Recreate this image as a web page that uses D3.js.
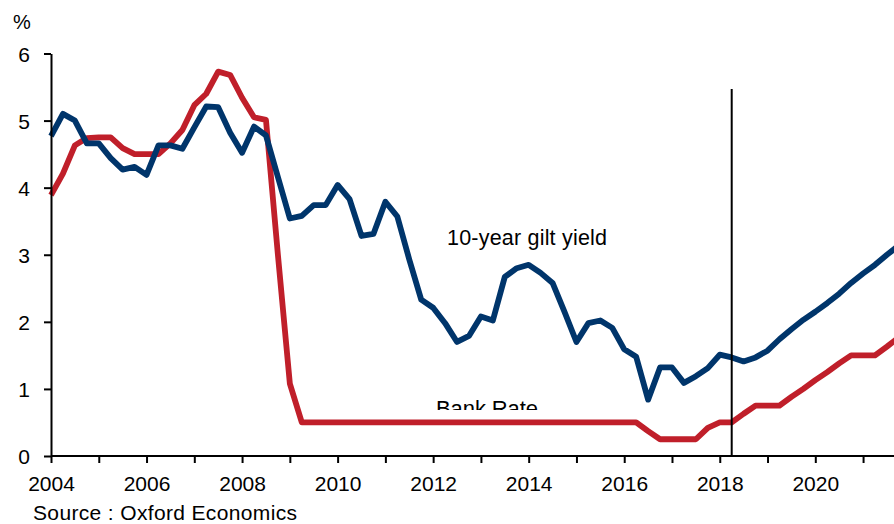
<!DOCTYPE html>
<html>
<head>
<meta charset="utf-8">
<script src="https://cdn.jsdelivr.net/npm/d3@7"></script>
<style>
  html, body { margin: 0; padding: 0; background: #ffffff; }
  svg { display: block; }
  text { font-family: "Liberation Sans", Arial, Helvetica, sans-serif; fill: #000; }
</style>
</head>
<body>
<svg id="chart" width="894" height="524"></svg>
<script>
// ---------------- data ----------------
const startYear = 2004;           // first quarter = 2004 Q1
const giltYield = [
  4.77, 5.10, 5.00, 4.66, 4.66, 4.44, 4.27, 4.31,
  4.19, 4.63, 4.63, 4.58, 4.90, 5.21, 5.20, 4.82,
  4.52, 4.91, 4.78, 4.16, 3.54, 3.58, 3.74, 3.74,
  4.04, 3.83, 3.28, 3.31, 3.79, 3.57, 2.93, 2.33,
  2.21, 1.98, 1.70, 1.79, 2.08, 2.02, 2.67, 2.80,
  2.85, 2.73, 2.58, 2.15, 1.70, 1.98, 2.02, 1.91,
  1.59, 1.48, 0.84, 1.32, 1.32, 1.09, 1.19, 1.31,
  1.51, 1.47, 1.41, 1.47, 1.57, 1.74, 1.89, 2.03,
  2.15, 2.28, 2.42, 2.58, 2.72, 2.85, 3.00, 3.14
];
const bankRate = [
  3.89, 4.21, 4.63, 4.74, 4.75, 4.75, 4.59, 4.50,
  4.50, 4.50, 4.66, 4.86, 5.23, 5.40, 5.73, 5.68,
  5.34, 5.05, 5.01, 3.00, 1.08, 0.50, 0.50, 0.50,
  0.50, 0.50, 0.50, 0.50, 0.50, 0.50, 0.50, 0.50,
  0.50, 0.50, 0.50, 0.50, 0.50, 0.50, 0.50, 0.50,
  0.50, 0.50, 0.50, 0.50, 0.50, 0.50, 0.50, 0.50,
  0.50, 0.50, 0.37, 0.25, 0.25, 0.25, 0.25, 0.42,
  0.50, 0.50, 0.63, 0.75, 0.75, 0.75, 0.88, 1.00,
  1.13, 1.25, 1.38, 1.50, 1.50, 1.50, 1.63, 1.77
];
const yTicks = [0, 1, 2, 3, 4, 5, 6];
const xTickYears = [2004, 2005, 2006, 2007, 2008, 2009, 2010, 2011, 2012, 2013,
                    2014, 2015, 2016, 2017, 2018, 2019, 2020, 2021];
const xLabelYears = [2004, 2006, 2008, 2010, 2012, 2014, 2016, 2018, 2020];
const forecastStart = 2018.25;    // vertical divider (2018 Q2)
const dividerTop = 5.47;
const unitLabel = "%";
const sourceText = "Source : Oxford Economics";
const giltLabel = "10-year gilt yield";
const bankLabel = "Bank Rate";

// quarter positions (category axis)
const quarters = giltYield.map((_, i) => startYear + i * 0.25);

// ---------------- chart ----------------
const svg = d3.select("#chart");
const x = d3.scaleLinear().domain([2004, 2020]).range([51, 815.3]);
const y = d3.scaleLinear().domain([0, 6]).range([456, 53.5]);

const BLUE = "#00356b";
const RED = "#c01f2a";

// lines
const line = d3.line().x((d, i) => x(quarters[i])).y(d => y(d));

svg.append("path")
  .datum(bankRate)
  .attr("d", line)
  .attr("fill", "none")
  .attr("stroke", RED)
  .attr("stroke-width", 5.8)
  .attr("stroke-linejoin", "round");

svg.append("path")
  .datum(giltYield)
  .attr("d", line)
  .attr("fill", "none")
  .attr("stroke", BLUE)
  .attr("stroke-width", 5.8)
  .attr("stroke-linejoin", "round");

// divider
svg.append("line")
  .attr("x1", x(forecastStart)).attr("x2", x(forecastStart))
  .attr("y1", y(dividerTop)).attr("y2", y(0))
  .attr("stroke", "#000").attr("stroke-width", 2);

// axes
const yAxis = d3.axisLeft(y).tickValues(yTicks).tickFormat(d3.format("d"))
  .tickSizeInner(7).tickSizeOuter(0).tickPadding(14);
const gy = svg.append("g").attr("transform", `translate(${x(2004)},0)`).call(yAxis);
gy.select(".domain").attr("stroke", "#000").attr("stroke-width", 2);
gy.selectAll(".tick line").attr("stroke", "#000").attr("stroke-width", 2);
gy.selectAll(".tick text")
  .attr("font-size", 21)
  .attr("font-family", "Liberation Sans, Arial, sans-serif")
  .attr("fill", "#000")
  .attr("dy", "0.38em");

const xAxis = d3.axisBottom(x).tickValues(xTickYears)
  .tickFormat(d => xLabelYears.includes(d) ? String(d) : "")
  .tickSizeInner(7).tickSizeOuter(0).tickPadding(12);
const gx = svg.append("g").attr("transform", `translate(0,${y(0)})`).call(xAxis);
gx.select(".domain").attr("d", `M${x(2004)},0H894`).attr("stroke", "#000").attr("stroke-width", 2);
gx.selectAll(".tick line").attr("stroke", "#000").attr("stroke-width", 2);
gx.selectAll(".tick text")
  .attr("font-size", 21)
  .attr("font-family", "Liberation Sans, Arial, sans-serif")
  .attr("fill", "#000")
  .attr("dy", "0.76em");

// texts
svg.append("text")
  .attr("x", 13).attr("y", 29)
  .attr("font-size", 20)
  .text(unitLabel);

svg.append("text")
  .attr("x", 447).attr("y", 244.5)
  .attr("font-size", 21.5)
  .attr("textLength", 160).attr("lengthAdjust", "spacing")
  .text(giltLabel);

svg.append("defs").append("clipPath").attr("id", "bankClip")
  .append("rect").attr("x", 400).attr("y", 380).attr("width", 200).attr("height", 30);

svg.append("text")
  .attr("x", 436).attr("y", 415.5)
  .attr("font-size", 22)
  .attr("textLength", 102).attr("lengthAdjust", "spacing")
  .attr("clip-path", "url(#bankClip)")
  .text(bankLabel);

svg.append("text")
  .attr("x", 33).attr("y", 520)
  .attr("font-size", 21)
  .attr("textLength", 264).attr("lengthAdjust", "spacing")
  .text(sourceText);
</script>
</body>
</html>
